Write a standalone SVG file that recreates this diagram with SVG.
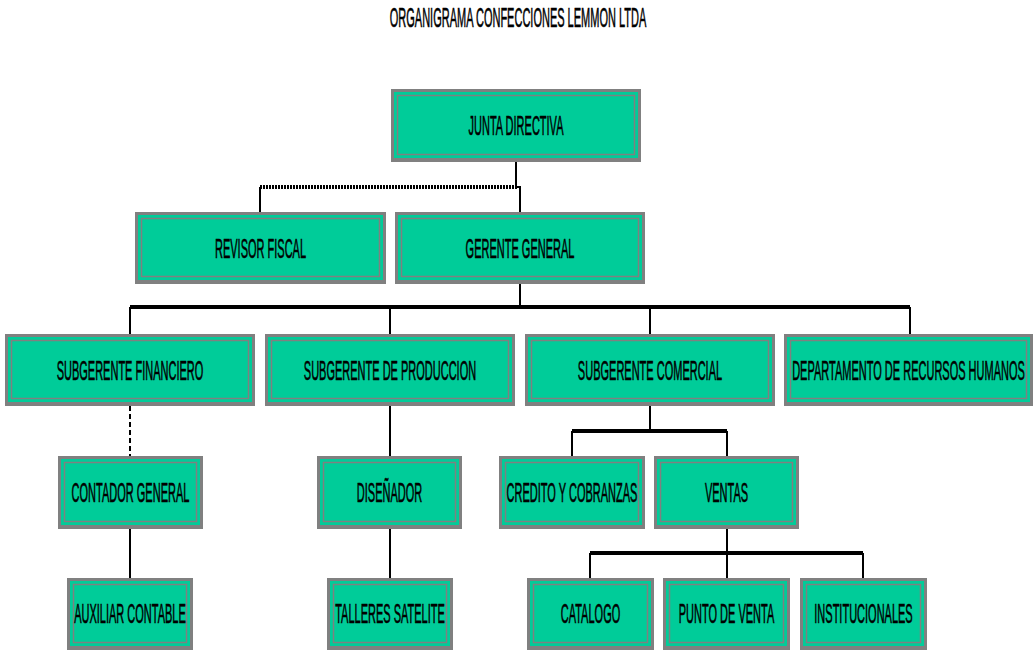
<svg xmlns="http://www.w3.org/2000/svg" width="1034" height="650" viewBox="0 0 1034 650">
<style>
.o{fill:#808080}
.g{fill:#00CC99}
.i{fill:none;stroke:#808080;stroke-width:1.5}
.t{font-family:"Liberation Sans",Arial,sans-serif;font-size:28px;fill:#000;stroke:#000;stroke-width:0.6;text-anchor:middle}
.c{stroke:#000;stroke-width:2;fill:none}
.b{stroke:#000;stroke-width:4;fill:none}
</style>
<rect width="1034" height="650" fill="#fff"/>
<text class="t" transform="translate(518 27) scale(0.393 1)">ORGANIGRAMA CONFECCIONES LEMMON LTDA</text>
<g id="connectors">
<path class="c" d="M516 162V187H520V212M260 187V212M520 284V307M130 307V334M390 307V334M650 307V334M910 307V334"/>
<path d="M260 187H518" stroke="#000" stroke-width="4" stroke-dasharray="2 1" fill="none"/>
<path class="b" d="M130 307H910"/>
<path class="c" d="M130 406V456" stroke-dasharray="5 3"/>
<path class="c" d="M130 529V578M390 406V456M390 529V578M650 406V431M572 431V456M727 431V456M727 529V578M590 553V578M863 553V578"/>
<path class="b" d="M572 431H727M590 553H863"/>
</g>
<g id="junta"><rect class="o" x="391" y="89" width="250" height="73"/><rect class="g" x="394" y="92" width="244" height="66"/><rect class="i" x="397.5" y="95.5" width="237" height="59"/><text class="t" transform="translate(516 135) scale(0.393 1)">JUNTA DIRECTIVA</text></g>
<g id="revisor"><rect class="o" x="135" y="212" width="251" height="72"/><rect class="g" x="138" y="215" width="245" height="65"/><rect class="i" x="141.5" y="218.5" width="238" height="58"/><text class="t" transform="translate(260.5 258) scale(0.393 1)">REVISOR FISCAL</text></g>
<g id="gerente"><rect class="o" x="395" y="212" width="250" height="72"/><rect class="g" x="398" y="215" width="244" height="65"/><rect class="i" x="401.5" y="218.5" width="237" height="58"/><text class="t" transform="translate(520 258) scale(0.393 1)">GERENTE GENERAL</text></g>
<g id="subfin"><rect class="o" x="5" y="334" width="250" height="72"/><rect class="g" x="8" y="337" width="244" height="65"/><rect class="i" x="11.5" y="340.5" width="237" height="58"/><text class="t" transform="translate(130 380) scale(0.393 1)">SUBGERENTE FINANCIERO</text></g>
<g id="subprod"><rect class="o" x="265" y="334" width="250" height="72"/><rect class="g" x="268" y="337" width="244" height="65"/><rect class="i" x="271.5" y="340.5" width="237" height="58"/><text class="t" transform="translate(390 380) scale(0.393 1)">SUBGERENTE DE PRODUCCION</text></g>
<g id="subcom"><rect class="o" x="525" y="334" width="250" height="72"/><rect class="g" x="528" y="337" width="244" height="65"/><rect class="i" x="531.5" y="340.5" width="237" height="58"/><text class="t" transform="translate(650 380) scale(0.393 1)">SUBGERENTE COMERCIAL</text></g>
<g id="rrhh"><rect class="o" x="784" y="334" width="249" height="72"/><rect class="g" x="787" y="337" width="243" height="65"/><rect class="i" x="790.5" y="340.5" width="236" height="58"/><text class="t" transform="translate(908.5 380) scale(0.393 1)">DEPARTAMENTO DE RECURSOS HUMANOS</text></g>
<g id="contador"><rect class="o" x="58" y="456" width="145" height="73"/><rect class="g" x="61" y="459" width="139" height="66"/><rect class="i" x="64.5" y="462.5" width="132" height="59"/><text class="t" transform="translate(130.5 502) scale(0.393 1)">CONTADOR GENERAL</text></g>
<g id="disenador"><rect class="o" x="317" y="456" width="145" height="73"/><rect class="g" x="320" y="459" width="139" height="66"/><rect class="i" x="323.5" y="462.5" width="132" height="59"/><text class="t" transform="translate(389.5 502) scale(0.393 1)">DISEÑADOR</text></g>
<g id="credito"><rect class="o" x="499" y="456" width="146" height="73"/><rect class="g" x="502" y="459" width="140" height="66"/><rect class="i" x="505.5" y="462.5" width="133" height="59"/><text class="t" transform="translate(572 502) scale(0.393 1)">CREDITO Y COBRANZAS</text></g>
<g id="ventas"><rect class="o" x="654" y="456" width="145" height="73"/><rect class="g" x="657" y="459" width="139" height="66"/><rect class="i" x="660.5" y="462.5" width="132" height="59"/><text class="t" transform="translate(726.5 502) scale(0.393 1)">VENTAS</text></g>
<g id="auxiliar"><rect class="o" x="67" y="578" width="126" height="72"/><rect class="g" x="70" y="581" width="120" height="65"/><rect class="i" x="73.5" y="584.5" width="113" height="58"/><text class="t" transform="translate(130 623) scale(0.393 1)">AUXILIAR CONTABLE</text></g>
<g id="talleres"><rect class="o" x="327" y="578" width="126" height="72"/><rect class="g" x="330" y="581" width="120" height="65"/><rect class="i" x="333.5" y="584.5" width="113" height="58"/><text class="t" transform="translate(390 623) scale(0.393 1)">TALLERES SATELITE</text></g>
<g id="catalogo"><rect class="o" x="527" y="578" width="127" height="72"/><rect class="g" x="530" y="581" width="121" height="65"/><rect class="i" x="533.5" y="584.5" width="114" height="58"/><text class="t" transform="translate(590.5 623) scale(0.393 1)">CATALOGO</text></g>
<g id="punto"><rect class="o" x="663" y="578" width="127" height="72"/><rect class="g" x="666" y="581" width="121" height="65"/><rect class="i" x="669.5" y="584.5" width="114" height="58"/><text class="t" transform="translate(726.5 623) scale(0.393 1)">PUNTO DE VENTA</text></g>
<g id="institucionales"><rect class="o" x="800" y="578" width="127" height="72"/><rect class="g" x="803" y="581" width="121" height="65"/><rect class="i" x="806.5" y="584.5" width="114" height="58"/><text class="t" transform="translate(863.5 623) scale(0.393 1)">INSTITUCIONALES</text></g>
</svg>
